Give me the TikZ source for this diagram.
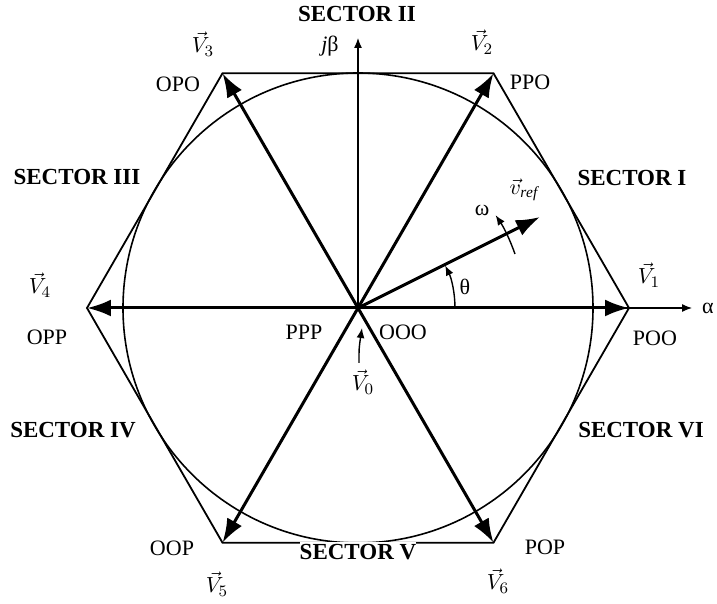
\documentclass[tikz,border=0pt]{standalone}
\usepackage{fontspec}
\setmainfont{Liberation Serif}
\usetikzlibrary{arrows.meta, calc}
\tikzset{
  lbl/.style={font=\fontsize{11}{13}\selectfont, inner sep=0pt},
  sector/.style={font=\fontsize{11.5}{13}\selectfont\bfseries, inner sep=0pt},
  vecarrow/.style={-{Latex[length=12pt, width=8.5pt]}, line width=1.5pt, draw=black},
  axis/.style={-{Latex[length=5pt, width=4pt]}, line width=0.6pt, draw=black},
  hexline/.style={line width=0.9pt, draw=black},
  smallarrow/.style={-{Latex[length=5pt, width=4pt]}, line width=0.7pt, draw=black}
}

\begin{document}
\begin{tikzpicture}[x=0.5pt, y=0.5pt]

\useasboundingbox (-358,-296) rectangle (359,308);

% centre and hexagon corners
\coordinate (O) at (0,0);
\coordinate (v1) at (0:271);
\coordinate (v2) at (60:271);
\coordinate (v3) at (120:271);
\coordinate (v4) at (180:271);
\coordinate (v5) at (240:271);
\coordinate (v6) at (300:271);
\coordinate (alpha) at (334,0);
\coordinate (beta) at (0,270);
\coordinate (ref) at (182,91);

% hexagon and inscribed circle
\draw[hexline] (v1) -- (v2) -- (v3) -- (v4) -- (v5) -- (v6) -- cycle;
\draw[line width=0.8pt] (O) circle (235);

% axes
\draw[axis] (O) -- (alpha);
\draw[axis] (O) -- (beta);

% switching vectors
\foreach \k in {1,...,6}
  \draw[vecarrow] (O) -- (v\k);
\draw[vecarrow] (O) -- (ref);

% angles
\draw[smallarrow] (0:97) arc (0:26:97);
\draw[smallarrow] (19:166) arc (19:34:166);
\draw[smallarrow] (1,-55) .. controls (1,-40) .. (4,-20);

% labels
\node[lbl] (alab) at (350,0) {α};
\node[lbl] (blab) at (-28,262) {{\itshape j}β};
\node[lbl] (th) at (107,21) {θ};
\node[lbl] (om) at (124,98) {ω};
\node[lbl] (vref) at (166,118) {$\vec{v}_{\mathit{ref}}$};

\node[lbl] (l1) at (291,33) {$\vec{V}_1$};
\node[lbl] (l2) at (124,266) {$\vec{V}_2$};
\node[lbl] (l3) at (-155,264) {$\vec{V}_3$};
\node[lbl] (l4) at (-318,23) {$\vec{V}_4$};
\node[lbl] (l5) at (-141,-276) {$\vec{V}_5$};
\node[lbl] (l6) at (140,-273) {$\vec{V}_6$};
\node[lbl] (l0) at (5,-74) {$\vec{V}_0$};

\node[lbl] (poo) at (297,-30) {POO};
\node[lbl] (ppo) at (172,226) {PPO};
\node[lbl] (opo) at (-180,224) {OPO};
\node[lbl] (opp) at (-311,-29) {OPP};
\node[lbl] (oop) at (-186,-240) {OOP};
\node[lbl] (pop) at (187,-239) {POP};
\node[lbl] (ppp) at (-54,-24) {PPP};
\node[lbl] (ooo) at (45,-24) {OOO};

\node[sector] (s1) at (274,130) {SECTOR I};
\node[sector] (s2) at (-1,294) {SECTOR II};
\node[sector] (s3) at (-281,131) {SECTOR III};
\node[sector] (s4) at (-285,-122) {SECTOR IV};
\node[sector, fill=white, inner ysep=1pt] (s5) at (0,-244) {SECTOR V};
\node[sector] (s6) at (283,-122) {SECTOR VI};

\end{tikzpicture}
\end{document}
